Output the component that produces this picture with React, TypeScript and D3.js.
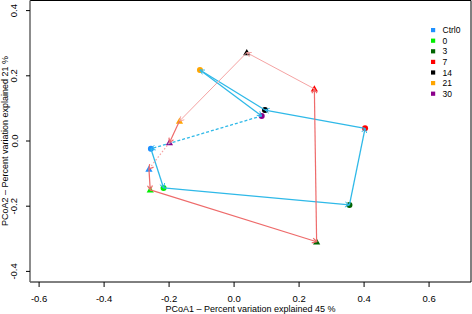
import React from "react";
import * as d3 from "d3";

const groups = ["Ctrl0", "0", "3", "7", "14", "21", "30"];
const groupColors = ["#1E90FF", "#00EE00", "#006400", "#FF0000", "#000000", "#FFA500", "#8B008B"];
const circleX = [-0.256, -0.217, 0.355, 0.403, 0.095, -0.105, 0.085];
const circleY = [-0.024, -0.144, -0.196, 0.039, 0.095, 0.218, 0.077];
const triX = [-0.262, -0.258, 0.254, 0.247, 0.039, -0.168, -0.199];
const triY = [-0.086, -0.15, -0.309, 0.16, 0.271, 0.061, -0.005];
const xTicks = [-0.6, -0.4, -0.2, 0.0, 0.2, 0.4, 0.6];
const yTicks = [-0.4, -0.2, 0.0, 0.2, 0.4];
const xTitle = "PCoA1 \u2013 Percent variation explained 45 %";
const yTitle = "PCoA2 \u2013 Percent variation explained 21 %";

const W = 472, H = 314;
const L = 30, R = 471, T = 0.5, B = 282;
const FONT = "'Liberation Sans', Arial, Helvetica, sans-serif";

const fmt = (v: number) => (v < 0 ? "-" : "") + Math.abs(v).toFixed(1);

function arrowHead(x1: number, y1: number, x2: number, y2: number, len = 5) {
  const a = Math.atan2(y2 - y1, x2 - x1);
  const s = Math.PI / 6;
  const p1 = [x2 - len * Math.cos(a - s), y2 - len * Math.sin(a - s)];
  const p2 = [x2 - len * Math.cos(a + s), y2 - len * Math.sin(a + s)];
  return `M${p1[0]},${p1[1]}L${x2},${y2}L${p2[0]},${p2[1]}`;
}

export default function App() {
  const x = d3.scaleLinear().domain([-0.628, 0.729]).range([L, R]);
  const y = d3.scaleLinear().domain([-0.4325, 0.4325]).range([B, 0]);

  const cyan = "#2FB9E8";
  const redStrong = "#EE6B6B";
  const redLight = "#F5A3A3";

  const segs = (xs: number[], ys: number[]) =>
    xs.map((_, i) => {
      const j = (i + 1) % xs.length;
      return { x1: x(xs[i]), y1: y(ys[i]), x2: x(xs[j]), y2: y(ys[j]), i };
    });

  const cSegs = segs(circleX, circleY);
  const tSegs = segs(triX, triY);
  const triColor = (i: number) => (i === 3 || i === 4 ? redLight : redStrong);

  const triPath = (cx: number, cy: number) => {
    const s = 3.6;
    return `M${cx},${cy - s}L${cx + s},${cy + s * 0.75}L${cx - s},${cy + s * 0.75}Z`;
  };

  return (
    <svg width={W} height={H} style={{ position: "absolute", left: 0, top: 0 }} fontFamily={FONT}>
      <rect x={0} y={0} width={W} height={H} fill="#fff" />
      {groups.map((g, i) => (
        <circle key={"c" + g} cx={x(circleX[i])} cy={y(circleY[i])} r={3} fill={groupColors[i]} />
      ))}
      {groups.map((g, i) => (
        <path key={"t" + g} d={triPath(x(triX[i]), y(triY[i]))} fill={groupColors[i]} />
      ))}
      {cSegs.map((s) => (
        <g key={"cs" + s.i} stroke={cyan} fill="none" strokeWidth={1.3}>
          <line x1={s.x1} y1={s.y1} x2={s.x2} y2={s.y2} strokeDasharray={s.i === 6 ? "3,2" : undefined} />
          <path d={arrowHead(s.x1, s.y1, s.x2, s.y2)} strokeWidth={1} />
        </g>
      ))}
      {tSegs.map((s) => (
        <g key={"ts" + s.i} stroke={triColor(s.i)} fill="none" strokeWidth={s.i === 3 || s.i === 4 ? 1 : 1.2}>
          <line x1={s.x1} y1={s.y1} x2={s.x2} y2={s.y2} strokeDasharray={s.i === 6 ? "1.5,2" : undefined} stroke={s.i === 6 ? redLight : undefined} />
          <path d={arrowHead(s.x1, s.y1, s.x2, s.y2)} />
        </g>
      ))}
      <line x1={L} y1={T} x2={R} y2={T} stroke="#000" />
      <line x1={R} y1={T} x2={R} y2={B} stroke="#000" />
      <line x1={L} y1={B} x2={R} y2={B} stroke="#000" />
      <line x1={L} y1={T} x2={L} y2={B} stroke="#666" strokeWidth={1.5} />
      {xTicks.map((v) => (
        <g key={"xt" + v}>
          <line x1={x(v)} x2={x(v)} y1={B} y2={B + 5} stroke="#000" />
          <text x={x(v)} y={301.5} fontSize={9.5} textAnchor="middle" fill="#000">{fmt(v)}</text>
        </g>
      ))}
      {yTicks.map((v) => (
        <g key={"yt" + v}>
          <line x1={L} x2={L - 4} y1={y(v)} y2={y(v)} stroke="#000" />
          <text x={17.5} y={y(v)} fontSize={9.5} textAnchor="middle" fill="#000" transform={`rotate(-90, 17.5, ${y(v)})`}>{fmt(v)}</text>
        </g>
      ))}
      <text x={(L + R) / 2} y={311.5} fontSize={9} textAnchor="middle" fill="#000">{xTitle}</text>
      <text x={7.5} y={B / 2} fontSize={9} textAnchor="middle" fill="#000" transform={`rotate(-90, 7.5, ${B / 2})`}>{yTitle}</text>
      {groups.map((g, i) => (
        <g key={"lg" + g}>
          <rect x={431} y={28 + i * 10.6} width={4.2} height={4.2} fill={groupColors[i]} />
          <text x={442.5} y={33.2 + i * 10.6} fontSize={8.5} fill="#000">{g}</text>
        </g>
      ))}
    </svg>
  );
}
